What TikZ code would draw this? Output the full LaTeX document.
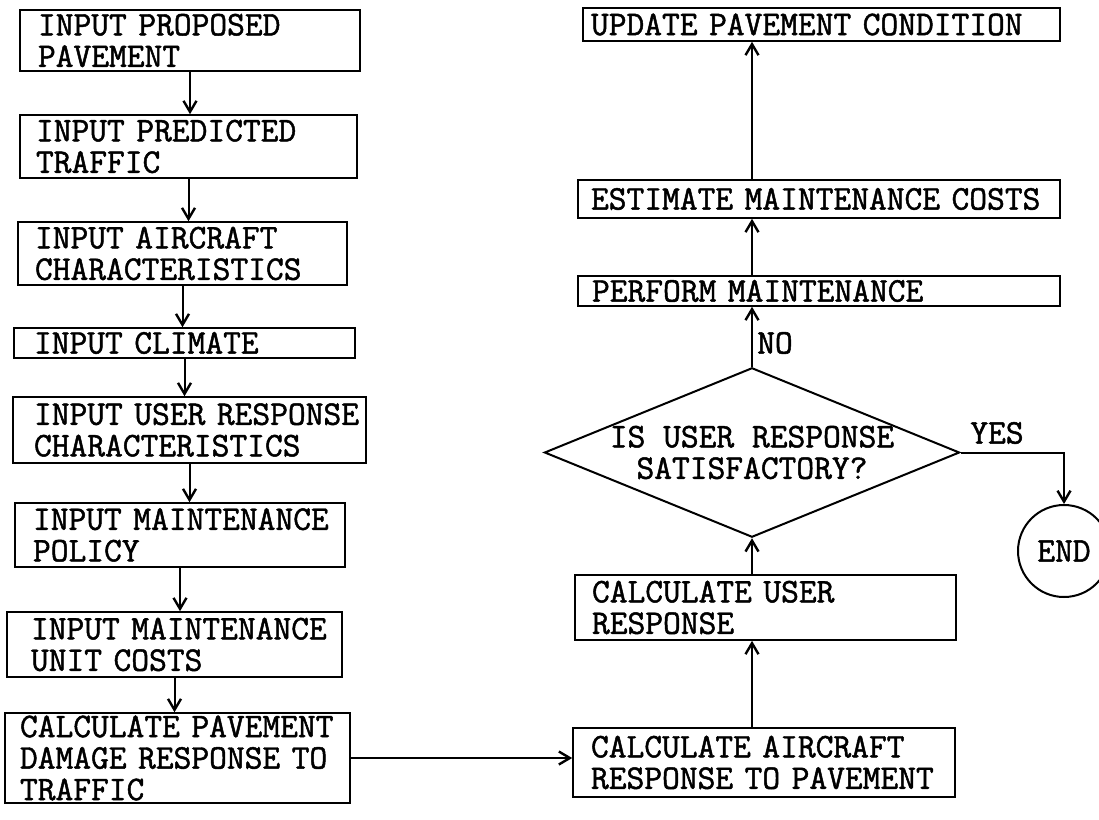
\documentclass[tikz,border=0pt]{standalone}
\usepackage{fontspec}
\usetikzlibrary{arrows.meta,shapes.geometric}
\newfontfamily\twbase{Latin Modern Mono}[FakeBold=1.4]
\newcommand\twfont{\twbase\fontsize{34.5}{31.5}\selectfont}
\begin{document}
\begin{tikzpicture}[x=1pt,y=-1pt,
  box/.style={draw, line width=1.6pt, rectangle, align=left, inner ysep=0pt, font=\twfont},
  arr/.style={line width=2pt, -{Straight Barb[length=11pt,width=13pt,line width=2.4pt]}},
  lbl/.style={font=\twfont, inner sep=0pt}]
\useasboundingbox[fill=white] (0,0) rectangle (1099,819);
% left column
\node[box, minimum width=340pt, minimum height=61pt, text width=304pt, inner xsep=18pt] (b1) at (190,40.5) {\mbox{INPUT PROPOSED}\\\mbox{PAVEMENT}};
\node[box, minimum width=337pt, minimum height=63pt, text width=305pt, inner xsep=16pt] (b2) at (188.5,146.5) {\mbox{INPUT PREDICTED}\\\mbox{TRAFFIC}};
\node[box, minimum width=329pt, minimum height=63pt, text width=295pt, inner xsep=17pt] (b3) at (182.5,253.5) {\mbox{INPUT AIRCRAFT}\\\mbox{CHARACTERISTICS}};
\node[box, minimum width=341pt, minimum height=30pt, text width=301pt, inner xsep=20pt] (b4) at (184.5,343) {\mbox{INPUT CLIMATE}};
\node[box, minimum width=353pt, minimum height=66pt, text width=311pt, inner xsep=21pt] (b5) at (189.5,430) {\mbox{INPUT USER RESPONSE}\\\mbox{CHARACTERISTICS}};
\node[box, minimum width=330pt, minimum height=64pt, text width=294pt, inner xsep=18pt] (b6) at (180,535) {\mbox{INPUT MAINTENANCE}\\\mbox{POLICY}};
\node[box, minimum width=335pt, minimum height=65pt, text width=287pt, inner xsep=24pt] (b7) at (174.5,644.5) {\mbox{INPUT MAINTENANCE}\\\mbox{UNIT COSTS}};
\node[box, minimum width=345pt, minimum height=90pt, text width=315pt, inner xsep=15pt] (b8) at (177.5,758) {\mbox{CALCULATE PAVEMENT}\\\mbox{DAMAGE RESPONSE TO}\\\mbox{TRAFFIC}};
% right column
\node[box, minimum width=477pt, minimum height=33pt, text width=461pt, inner xsep=8pt] (u) at (821.5,24.5) {\mbox{UPDATE PAVEMENT CONDITION}};
\node[box, minimum width=482pt, minimum height=38pt, text width=456pt, inner xsep=13pt] (e) at (819,199) {\mbox{ESTIMATE MAINTENANCE COSTS}};
\node[box, minimum width=482pt, minimum height=30pt, text width=454pt, inner xsep=14pt] (p) at (819,291) {\mbox{PERFORM MAINTENANCE}};
\node[draw, diamond, line width=2pt, aspect=2.45, inner sep=0pt, minimum width=415pt, minimum height=169pt, align=center, font=\twfont] (d) at (752,452.5) {IS USER RESPONSE\\SATISFACTORY?};
\node[box, minimum width=381pt, minimum height=65pt, text width=347pt, inner xsep=17pt] (c) at (765.5,607.5) {\mbox{CALCULATE USER}\\\mbox{RESPONSE}};
\node[box, minimum width=382pt, minimum height=69pt, text width=346pt, inner xsep=18pt] (a) at (764,762.5) {\mbox{CALCULATE AIRCRAFT}\\\mbox{RESPONSE TO PAVEMENT}};
\node[draw, circle, line width=2pt, minimum size=92pt, inner sep=0pt, font=\twfont] (end) at (1064,551) {END};
\node[lbl, anchor=west] (no) at (757,343) {NO};
\node[lbl] (yes) at (997,433) {YES};
% connectors
\draw[arr] (b1.south) -- (b1.south |- b2.north);
\draw[arr] (b2.south) -- (b2.south |- b3.north);
\draw[arr] (b3.south) -- (b3.south |- b4.north);
\draw[arr] (b4.south) -- (b4.south |- b5.north);
\draw[arr] (b5.south) -- (b5.south |- b6.north);
\draw[arr] (b6.south) -- (b6.south |- b7.north);
\draw[arr] (b7.south) -- (b7.south |- b8.north);
\draw[arr] (b8.east) -- (b8.east -| a.west);
\draw[arr] (d.south |- a.north) -- (d.south |- c.south);
\draw[arr] (d.south |- c.north) -- (d.south);
\draw[arr] (d.north) -- (d.north |- p.south);
\draw[arr] (d.north |- p.north) -- (d.north |- e.south);
\draw[arr] (d.north |- e.north) -- (d.north |- u.south);
\draw[arr] (d.east) -| (end.north);
\end{tikzpicture}
\end{document}
